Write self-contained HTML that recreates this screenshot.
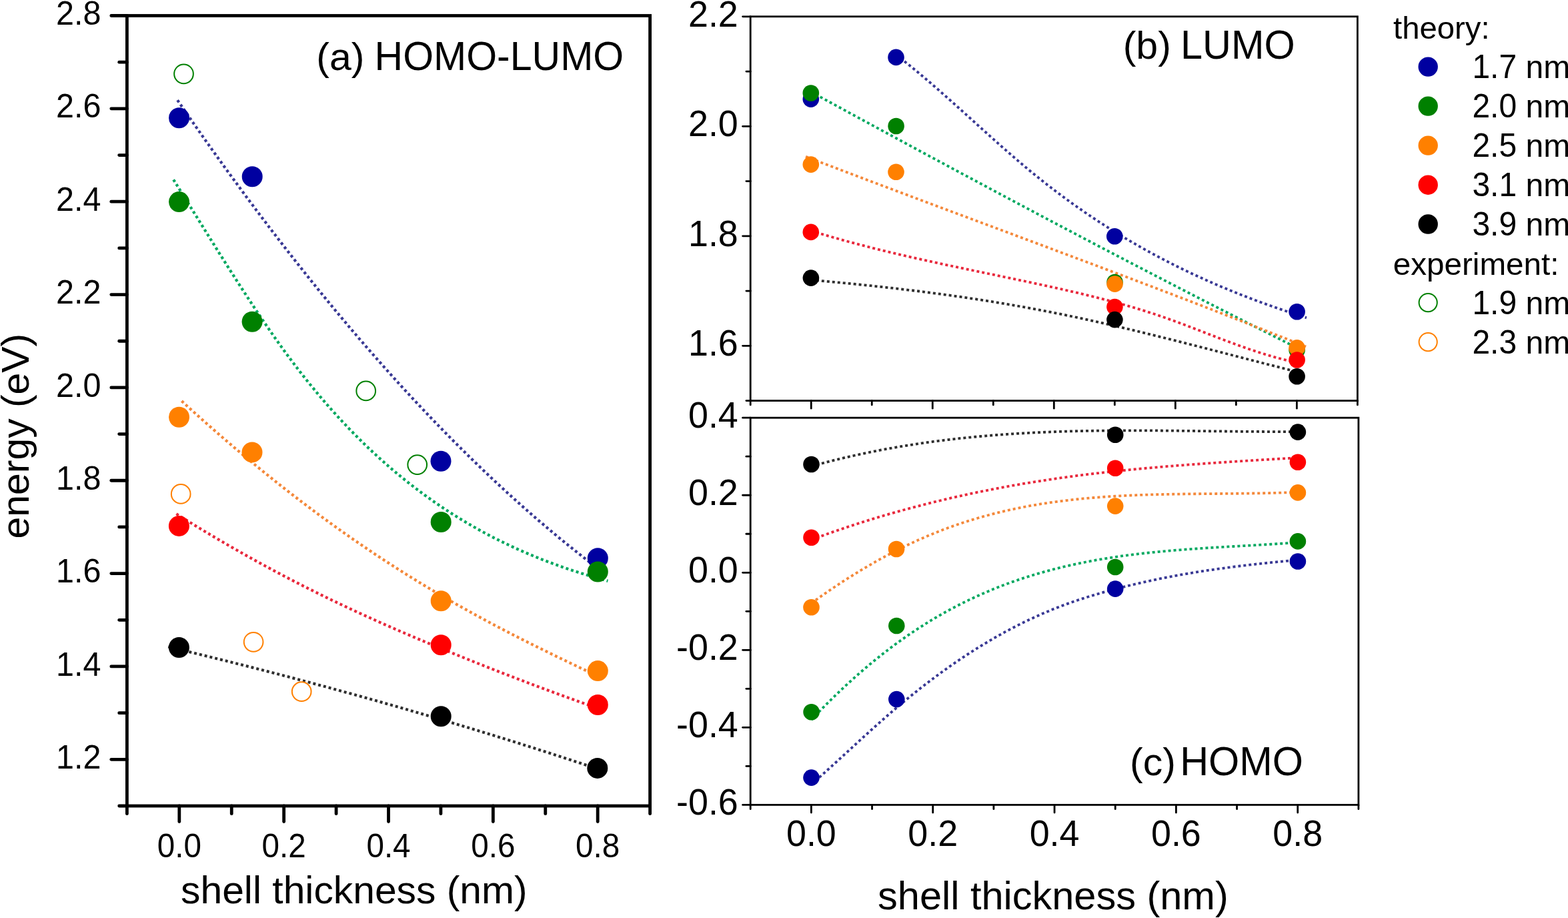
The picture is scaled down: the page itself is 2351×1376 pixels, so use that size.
<!DOCTYPE html>
<html><head><meta charset="utf-8"><title>HOMO-LUMO energies vs shell thickness</title><style>html,body{margin:0;padding:0;background:#fff;}svg{display:block;}</style></head><body>
<svg width="2351" height="1376" viewBox="0 0 2351 1376" font-family="'Liberation Sans', Arial, Helvetica, sans-serif">
<rect width="2351" height="1376" fill="#fff"/>
<line x1="166.80" y1="23.50" x2="190.40" y2="23.50" stroke="#000" stroke-width="4.8" stroke-linecap="round"/>
<line x1="178.70" y1="93.18" x2="190.40" y2="93.18" stroke="#000" stroke-width="4.8" stroke-linecap="round"/>
<line x1="166.80" y1="162.85" x2="190.40" y2="162.85" stroke="#000" stroke-width="4.8" stroke-linecap="round"/>
<line x1="178.70" y1="232.53" x2="190.40" y2="232.53" stroke="#000" stroke-width="4.8" stroke-linecap="round"/>
<line x1="166.80" y1="302.21" x2="190.40" y2="302.21" stroke="#000" stroke-width="4.8" stroke-linecap="round"/>
<line x1="178.70" y1="371.88" x2="190.40" y2="371.88" stroke="#000" stroke-width="4.8" stroke-linecap="round"/>
<line x1="166.80" y1="441.56" x2="190.40" y2="441.56" stroke="#000" stroke-width="4.8" stroke-linecap="round"/>
<line x1="178.70" y1="511.24" x2="190.40" y2="511.24" stroke="#000" stroke-width="4.8" stroke-linecap="round"/>
<line x1="166.80" y1="580.91" x2="190.40" y2="580.91" stroke="#000" stroke-width="4.8" stroke-linecap="round"/>
<line x1="178.70" y1="650.59" x2="190.40" y2="650.59" stroke="#000" stroke-width="4.8" stroke-linecap="round"/>
<line x1="166.80" y1="720.26" x2="190.40" y2="720.26" stroke="#000" stroke-width="4.8" stroke-linecap="round"/>
<line x1="178.70" y1="789.94" x2="190.40" y2="789.94" stroke="#000" stroke-width="4.8" stroke-linecap="round"/>
<line x1="166.80" y1="859.62" x2="190.40" y2="859.62" stroke="#000" stroke-width="4.8" stroke-linecap="round"/>
<line x1="178.70" y1="929.29" x2="190.40" y2="929.29" stroke="#000" stroke-width="4.8" stroke-linecap="round"/>
<line x1="166.80" y1="998.97" x2="190.40" y2="998.97" stroke="#000" stroke-width="4.8" stroke-linecap="round"/>
<line x1="178.70" y1="1068.65" x2="190.40" y2="1068.65" stroke="#000" stroke-width="4.8" stroke-linecap="round"/>
<line x1="166.80" y1="1138.32" x2="190.40" y2="1138.32" stroke="#000" stroke-width="4.8" stroke-linecap="round"/>
<line x1="178.70" y1="1208.00" x2="190.40" y2="1208.00" stroke="#000" stroke-width="4.8" stroke-linecap="round"/>
<line x1="190.40" y1="1208.00" x2="190.40" y2="1219.70" stroke="#000" stroke-width="4.8" stroke-linecap="round"/>
<line x1="268.82" y1="1208.00" x2="268.82" y2="1231.60" stroke="#000" stroke-width="4.8" stroke-linecap="round"/>
<line x1="347.24" y1="1208.00" x2="347.24" y2="1219.70" stroke="#000" stroke-width="4.8" stroke-linecap="round"/>
<line x1="425.66" y1="1208.00" x2="425.66" y2="1231.60" stroke="#000" stroke-width="4.8" stroke-linecap="round"/>
<line x1="504.08" y1="1208.00" x2="504.08" y2="1219.70" stroke="#000" stroke-width="4.8" stroke-linecap="round"/>
<line x1="582.50" y1="1208.00" x2="582.50" y2="1231.60" stroke="#000" stroke-width="4.8" stroke-linecap="round"/>
<line x1="660.92" y1="1208.00" x2="660.92" y2="1219.70" stroke="#000" stroke-width="4.8" stroke-linecap="round"/>
<line x1="739.34" y1="1208.00" x2="739.34" y2="1231.60" stroke="#000" stroke-width="4.8" stroke-linecap="round"/>
<line x1="817.76" y1="1208.00" x2="817.76" y2="1219.70" stroke="#000" stroke-width="4.8" stroke-linecap="round"/>
<line x1="896.18" y1="1208.00" x2="896.18" y2="1231.60" stroke="#000" stroke-width="4.8" stroke-linecap="round"/>
<line x1="974.60" y1="1208.00" x2="974.60" y2="1219.70" stroke="#000" stroke-width="4.8" stroke-linecap="round"/>
<rect x="190.4" y="23.5" width="784.20" height="1184.50" fill="none" stroke="#000" stroke-width="4.8"/>
<text transform="translate(151.50,37.10) scale(1.0,1.03)" font-size="48.5" text-anchor="end">2.8</text>
<text transform="translate(151.50,176.45) scale(1.0,1.03)" font-size="48.5" text-anchor="end">2.6</text>
<text transform="translate(151.50,315.81) scale(1.0,1.03)" font-size="48.5" text-anchor="end">2.4</text>
<text transform="translate(151.50,455.16) scale(1.0,1.03)" font-size="48.5" text-anchor="end">2.2</text>
<text transform="translate(151.50,594.51) scale(1.0,1.03)" font-size="48.5" text-anchor="end">2.0</text>
<text transform="translate(151.50,733.86) scale(1.0,1.03)" font-size="48.5" text-anchor="end">1.8</text>
<text transform="translate(151.50,873.22) scale(1.0,1.03)" font-size="48.5" text-anchor="end">1.6</text>
<text transform="translate(151.50,1012.57) scale(1.0,1.03)" font-size="48.5" text-anchor="end">1.4</text>
<text transform="translate(151.50,1151.92) scale(1.0,1.03)" font-size="48.5" text-anchor="end">1.2</text>
<text transform="translate(268.82,1285.20) scale(1.0,1.03)" font-size="47.6" text-anchor="middle">0.0</text>
<text transform="translate(425.66,1285.20) scale(1.0,1.03)" font-size="47.6" text-anchor="middle">0.2</text>
<text transform="translate(582.50,1285.20) scale(1.0,1.03)" font-size="47.6" text-anchor="middle">0.4</text>
<text transform="translate(739.34,1285.20) scale(1.0,1.03)" font-size="47.6" text-anchor="middle">0.6</text>
<text transform="translate(896.18,1285.20) scale(1.0,1.03)" font-size="47.6" text-anchor="middle">0.8</text>
<text transform="translate(474.30,105.00) scale(1.0,0.985)" font-size="59.0" text-anchor="start">(a)</text>
<text transform="translate(561.60,105.00) scale(1.0,1.03)" font-size="59.0" text-anchor="start">HOMO-LUMO</text>
<text transform="translate(530.80,1354.30) scale(1.0,0.985)" font-size="58.8" text-anchor="middle">shell thickness (nm)</text>
<text transform="translate(43.2,653.6) rotate(-90) scale(1,0.985)" font-size="58.9" text-anchor="middle">energy (eV)</text>
<path d="M266.10,150.12 L270.14,155.99 L274.18,161.85 L278.21,167.68 L282.25,173.51 L286.29,179.31 L290.33,185.10 L294.36,190.87 L298.40,196.62 L302.44,202.36 L306.48,208.08 L310.52,213.78 L314.55,219.47 L318.59,225.13 L322.63,230.78 L326.67,236.42 L330.71,242.03 L334.74,247.63 L338.78,253.21 L342.82,258.77 L346.86,264.32 L350.89,269.85 L354.93,275.36 L358.97,280.86 L363.01,286.33 L367.05,291.79 L371.08,297.24 L375.12,302.66 L379.16,308.07 L383.20,313.46 L387.23,318.83 L391.27,324.19 L395.31,329.52 L399.35,334.84 L403.39,340.15 L407.42,345.43 L411.46,350.70 L415.50,355.95 L419.54,361.18 L423.57,366.40 L427.61,371.59 L431.65,376.77 L435.69,381.94 L439.73,387.08 L443.76,392.21 L447.80,397.32 L451.84,402.41 L455.88,407.48 L459.92,412.54 L463.95,417.58 L467.99,422.60 L472.03,427.60 L476.07,432.59 L480.10,437.55 L484.14,442.50 L488.18,447.44 L492.22,452.35 L496.26,457.25 L500.29,462.13 L504.33,466.99 L508.37,471.83 L512.41,476.66 L516.44,481.46 L520.48,486.25 L524.52,491.02 L528.56,495.78 L532.60,500.51 L536.63,505.23 L540.67,509.93 L544.71,514.61 L548.75,519.28 L552.79,523.92 L556.82,528.55 L560.86,533.16 L564.90,537.75 L568.94,542.33 L572.97,546.88 L577.01,551.42 L581.05,555.94 L585.09,560.44 L589.13,564.93 L593.16,569.39 L597.20,573.84 L601.24,578.27 L605.28,582.68 L609.31,587.07 L613.35,591.45 L617.39,595.80 L621.43,600.14 L625.47,604.46 L629.50,608.76 L633.54,613.05 L637.58,617.31 L641.62,621.56 L645.66,625.79 L649.69,630.00 L653.73,634.19 L657.77,638.36 L661.81,642.52 L665.84,646.66 L669.88,650.78 L673.92,654.88 L677.96,658.96 L682.00,663.02 L686.03,667.07 L690.07,671.09 L694.11,675.10 L698.15,679.09 L702.18,683.06 L706.22,687.02 L710.26,690.95 L714.30,694.87 L718.34,698.77 L722.37,702.64 L726.41,706.50 L730.45,710.35 L734.49,714.17 L738.52,717.97 L742.56,721.76 L746.60,725.53 L750.64,729.28 L754.68,733.01 L758.71,736.72 L762.75,740.41 L766.79,744.09 L770.83,747.74 L774.87,751.38 L778.90,755.00 L782.94,758.60 L786.98,762.18 L791.02,765.74 L795.05,769.28 L799.09,772.81 L803.13,776.31 L807.17,779.80 L811.21,783.27 L815.24,786.72 L819.28,790.15 L823.32,793.56 L827.36,796.95 L831.39,800.33 L835.43,803.68 L839.47,807.02 L843.51,810.33 L847.55,813.63 L851.58,816.91 L855.62,820.17 L859.66,823.41 L863.70,826.64 L867.74,829.84 L871.77,833.02 L875.81,836.19 L879.85,839.33 L883.89,842.46 L887.92,845.57 L891.96,848.66 L896.00,851.73" fill="none" stroke="#383894" stroke-width="4.2" stroke-dasharray="4 4"/>
<path d="M260.10,269.31 L264.15,275.76 L268.19,282.23 L272.24,288.70 L276.28,295.19 L280.33,301.68 L284.37,308.18 L288.42,314.68 L292.46,321.19 L296.51,327.69 L300.55,334.20 L304.60,340.70 L308.64,347.19 L312.69,353.68 L316.73,360.16 L320.78,366.63 L324.83,373.09 L328.87,379.53 L332.92,385.96 L336.96,392.37 L341.01,398.77 L345.05,405.14 L349.10,411.49 L353.14,417.81 L357.19,424.11 L361.23,430.38 L365.28,436.62 L369.32,442.83 L373.37,449.00 L377.41,455.14 L381.46,461.25 L385.51,467.31 L389.55,473.34 L393.60,479.32 L397.64,485.26 L401.69,491.15 L405.73,497.00 L409.78,502.79 L413.82,508.54 L417.87,514.23 L421.91,519.87 L425.96,525.45 L430.00,530.97 L434.05,536.43 L438.10,541.84 L442.14,547.18 L446.19,552.46 L450.23,557.69 L454.28,562.86 L458.32,567.97 L462.37,573.02 L466.41,578.01 L470.46,582.95 L474.50,587.83 L478.55,592.65 L482.59,597.42 L486.64,602.14 L490.68,606.79 L494.73,611.40 L498.78,615.95 L502.82,620.45 L506.87,624.89 L510.91,629.29 L514.96,633.63 L519.00,637.91 L523.05,642.15 L527.09,646.34 L531.14,650.47 L535.18,654.56 L539.23,658.60 L543.27,662.58 L547.32,666.52 L551.36,670.41 L555.41,674.26 L559.46,678.05 L563.50,681.80 L567.55,685.50 L571.59,689.16 L575.64,692.77 L579.68,696.33 L583.73,699.85 L587.77,703.33 L591.82,706.76 L595.86,710.14 L599.91,713.49 L603.95,716.79 L608.00,720.05 L612.04,723.27 L616.09,726.44 L620.14,729.58 L624.18,732.67 L628.23,735.73 L632.27,738.74 L636.32,741.71 L640.36,744.65 L644.41,747.55 L648.45,750.41 L652.50,753.23 L656.54,756.01 L660.59,758.76 L664.63,761.47 L668.68,764.15 L672.72,766.79 L676.77,769.39 L680.82,771.96 L684.86,774.50 L688.91,777.00 L692.95,779.46 L697.00,781.90 L701.04,784.29 L705.09,786.66 L709.13,788.99 L713.18,791.29 L717.22,793.56 L721.27,795.80 L725.31,798.00 L729.36,800.18 L733.40,802.32 L737.45,804.43 L741.50,806.51 L745.54,808.57 L749.59,810.59 L753.63,812.58 L757.68,814.55 L761.72,816.48 L765.77,818.39 L769.81,820.27 L773.86,822.12 L777.90,823.94 L781.95,825.74 L785.99,827.51 L790.04,829.25 L794.09,830.97 L798.13,832.66 L802.18,834.33 L806.22,835.97 L810.27,837.59 L814.31,839.18 L818.36,840.74 L822.40,842.29 L826.45,843.81 L830.49,845.30 L834.54,846.78 L838.58,848.23 L842.63,849.66 L846.67,851.07 L850.72,852.45 L854.77,853.81 L858.81,855.16 L862.86,856.48 L866.90,857.78 L870.95,859.06 L874.99,860.32 L879.04,861.57 L883.08,862.79 L887.13,863.99 L891.17,865.18 L895.22,866.35 L899.26,867.50 L903.31,868.63 L907.35,869.75 L911.40,870.85" fill="none" stroke="#00a860" stroke-width="4.2" stroke-dasharray="4 4"/>
<path d="M272.40,601.11 L276.45,604.82 L280.50,608.52 L284.55,612.20 L288.60,615.86 L292.65,619.51 L296.70,623.15 L300.75,626.78 L304.79,630.38 L308.84,633.98 L312.89,637.56 L316.94,641.13 L320.99,644.68 L325.04,648.22 L329.09,651.74 L333.14,655.25 L337.19,658.74 L341.24,662.22 L345.29,665.69 L349.34,669.14 L353.39,672.58 L357.44,676.01 L361.49,679.42 L365.54,682.81 L369.58,686.19 L373.63,689.56 L377.68,692.91 L381.73,696.25 L385.78,699.58 L389.83,702.89 L393.88,706.18 L397.93,709.46 L401.98,712.73 L406.03,715.98 L410.08,719.22 L414.13,722.45 L418.18,725.66 L422.23,728.85 L426.28,732.03 L430.32,735.20 L434.37,738.35 L438.42,741.49 L442.47,744.62 L446.52,747.73 L450.57,750.82 L454.62,753.90 L458.67,756.97 L462.72,760.02 L466.77,763.06 L470.82,766.09 L474.87,769.10 L478.92,772.09 L482.97,775.07 L487.02,778.04 L491.06,780.99 L495.11,783.93 L499.16,786.86 L503.21,789.77 L507.26,792.66 L511.31,795.54 L515.36,798.41 L519.41,801.26 L523.46,804.10 L527.51,806.93 L531.56,809.74 L535.61,812.53 L539.66,815.31 L543.71,818.08 L547.76,820.83 L551.81,823.57 L555.85,826.29 L559.90,829.00 L563.95,831.70 L568.00,834.38 L572.05,837.05 L576.10,839.71 L580.15,842.35 L584.20,844.97 L588.25,847.59 L592.30,850.19 L596.35,852.77 L600.40,855.34 L604.45,857.90 L608.50,860.45 L612.55,862.98 L616.59,865.50 L620.64,868.00 L624.69,870.50 L628.74,872.98 L632.79,875.44 L636.84,877.89 L640.89,880.33 L644.94,882.76 L648.99,885.17 L653.04,887.58 L657.09,889.96 L661.14,892.34 L665.19,894.70 L669.24,897.05 L673.29,899.39 L677.34,901.71 L681.38,904.03 L685.43,906.33 L689.48,908.61 L693.53,910.89 L697.58,913.15 L701.63,915.40 L705.68,917.64 L709.73,919.87 L713.78,922.09 L717.83,924.30 L721.88,926.49 L725.93,928.68 L729.98,930.86 L734.03,933.02 L738.08,935.18 L742.12,937.32 L746.17,939.46 L750.22,941.58 L754.27,943.70 L758.32,945.81 L762.37,947.90 L766.42,949.99 L770.47,952.07 L774.52,954.15 L778.57,956.21 L782.62,958.27 L786.67,960.31 L790.72,962.35 L794.77,964.39 L798.82,966.41 L802.86,968.43 L806.91,970.44 L810.96,972.45 L815.01,974.44 L819.06,976.44 L823.11,978.42 L827.16,980.40 L831.21,982.37 L835.26,984.34 L839.31,986.30 L843.36,988.26 L847.41,990.21 L851.46,992.15 L855.51,994.09 L859.56,996.03 L863.61,997.96 L867.65,999.89 L871.70,1001.81 L875.75,1003.73 L879.80,1005.65 L883.85,1007.56 L887.90,1009.47 L891.95,1011.37 L896.00,1013.28" fill="none" stroke="#f4883a" stroke-width="4.2" stroke-dasharray="4 4"/>
<path d="M264.40,770.31 L268.45,772.85 L272.50,775.37 L276.55,777.89 L280.59,780.39 L284.64,782.88 L288.69,785.37 L292.74,787.84 L296.79,790.30 L300.84,792.75 L304.89,795.19 L308.94,797.63 L312.98,800.05 L317.03,802.46 L321.08,804.86 L325.13,807.25 L329.18,809.63 L333.23,812.00 L337.28,814.35 L341.33,816.70 L345.37,819.04 L349.42,821.37 L353.47,823.69 L357.52,825.99 L361.57,828.29 L365.62,830.58 L369.67,832.85 L373.72,835.12 L377.76,837.37 L381.81,839.62 L385.86,841.85 L389.91,844.08 L393.96,846.29 L398.01,848.50 L402.06,850.69 L406.11,852.88 L410.15,855.05 L414.20,857.21 L418.25,859.37 L422.30,861.51 L426.35,863.64 L430.40,865.76 L434.45,867.88 L438.49,869.98 L442.54,872.07 L446.59,874.15 L450.64,876.22 L454.69,878.28 L458.74,880.33 L462.79,882.37 L466.84,884.41 L470.88,886.43 L474.93,888.44 L478.98,890.44 L483.03,892.43 L487.08,894.41 L491.13,896.38 L495.18,898.34 L499.23,900.29 L503.27,902.23 L507.32,904.16 L511.37,906.09 L515.42,908.00 L519.47,909.91 L523.52,911.80 L527.57,913.69 L531.62,915.57 L535.66,917.44 L539.71,919.30 L543.76,921.16 L547.81,923.01 L551.86,924.84 L555.91,926.68 L559.96,928.50 L564.01,930.31 L568.05,932.12 L572.10,933.92 L576.15,935.72 L580.20,937.51 L584.25,939.29 L588.30,941.06 L592.35,942.83 L596.39,944.59 L600.44,946.34 L604.49,948.09 L608.54,949.83 L612.59,951.56 L616.64,953.29 L620.69,955.02 L624.74,956.73 L628.78,958.45 L632.83,960.15 L636.88,961.85 L640.93,963.55 L644.98,965.24 L649.03,966.92 L653.08,968.60 L657.13,970.28 L661.17,971.95 L665.22,973.61 L669.27,975.27 L673.32,976.93 L677.37,978.58 L681.42,980.23 L685.47,981.87 L689.52,983.51 L693.56,985.15 L697.61,986.78 L701.66,988.41 L705.71,990.03 L709.76,991.65 L713.81,993.26 L717.86,994.87 L721.91,996.48 L725.95,998.08 L730.00,999.67 L734.05,1001.27 L738.10,1002.86 L742.15,1004.44 L746.20,1006.02 L750.25,1007.60 L754.29,1009.17 L758.34,1010.74 L762.39,1012.30 L766.44,1013.86 L770.49,1015.41 L774.54,1016.96 L778.59,1018.51 L782.64,1020.05 L786.68,1021.59 L790.73,1023.13 L794.78,1024.66 L798.83,1026.18 L802.88,1027.70 L806.93,1029.22 L810.98,1030.73 L815.03,1032.24 L819.07,1033.74 L823.12,1035.24 L827.17,1036.74 L831.22,1038.23 L835.27,1039.72 L839.32,1041.20 L843.37,1042.68 L847.42,1044.16 L851.46,1045.63 L855.51,1047.09 L859.56,1048.56 L863.61,1050.01 L867.66,1051.47 L871.71,1052.92 L875.76,1054.36 L879.81,1055.80 L883.85,1057.24 L887.90,1058.67 L891.95,1060.10 L896.00,1061.52" fill="none" stroke="#e8283c" stroke-width="4.2" stroke-dasharray="4 4"/>
<path d="M252.20,969.55 L256.25,970.51 L260.30,971.48 L264.35,972.44 L268.40,973.41 L272.45,974.38 L276.49,975.35 L280.54,976.32 L284.59,977.30 L288.64,978.28 L292.69,979.26 L296.74,980.24 L300.79,981.23 L304.84,982.21 L308.89,983.20 L312.94,984.20 L316.98,985.19 L321.03,986.19 L325.08,987.19 L329.13,988.19 L333.18,989.19 L337.23,990.20 L341.28,991.21 L345.33,992.22 L349.38,993.23 L353.43,994.25 L357.48,995.26 L361.52,996.28 L365.57,997.31 L369.62,998.33 L373.67,999.36 L377.72,1000.39 L381.77,1001.42 L385.82,1002.46 L389.87,1003.49 L393.92,1004.53 L397.97,1005.57 L402.02,1006.62 L406.06,1007.66 L410.11,1008.71 L414.16,1009.76 L418.21,1010.82 L422.26,1011.87 L426.31,1012.93 L430.36,1013.99 L434.41,1015.06 L438.46,1016.12 L442.51,1017.19 L446.55,1018.26 L450.60,1019.33 L454.65,1020.41 L458.70,1021.48 L462.75,1022.56 L466.80,1023.65 L470.85,1024.73 L474.90,1025.82 L478.95,1026.91 L483.00,1028.00 L487.05,1029.09 L491.09,1030.19 L495.14,1031.29 L499.19,1032.39 L503.24,1033.49 L507.29,1034.60 L511.34,1035.71 L515.39,1036.82 L519.44,1037.93 L523.49,1039.05 L527.54,1040.17 L531.58,1041.29 L535.63,1042.41 L539.68,1043.54 L543.73,1044.67 L547.78,1045.80 L551.83,1046.93 L555.88,1048.07 L559.93,1049.21 L563.98,1050.35 L568.03,1051.49 L572.08,1052.63 L576.12,1053.78 L580.17,1054.93 L584.22,1056.09 L588.27,1057.24 L592.32,1058.40 L596.37,1059.56 L600.42,1060.72 L604.47,1061.89 L608.52,1063.05 L612.57,1064.22 L616.62,1065.40 L620.66,1066.57 L624.71,1067.75 L628.76,1068.93 L632.81,1070.11 L636.86,1071.30 L640.91,1072.48 L644.96,1073.67 L649.01,1074.87 L653.06,1076.06 L657.11,1077.26 L661.15,1078.46 L665.20,1079.66 L669.25,1080.87 L673.30,1082.07 L677.35,1083.28 L681.40,1084.50 L685.45,1085.71 L689.50,1086.93 L693.55,1088.15 L697.60,1089.37 L701.65,1090.60 L705.69,1091.83 L709.74,1093.06 L713.79,1094.29 L717.84,1095.52 L721.89,1096.76 L725.94,1098.00 L729.99,1099.24 L734.04,1100.49 L738.09,1101.74 L742.14,1102.99 L746.18,1104.24 L750.23,1105.50 L754.28,1106.75 L758.33,1108.02 L762.38,1109.28 L766.43,1110.54 L770.48,1111.81 L774.53,1113.08 L778.58,1114.36 L782.63,1115.63 L786.68,1116.91 L790.72,1118.19 L794.77,1119.48 L798.82,1120.76 L802.87,1122.05 L806.92,1123.34 L810.97,1124.64 L815.02,1125.93 L819.07,1127.23 L823.12,1128.53 L827.17,1129.84 L831.22,1131.14 L835.26,1132.45 L839.31,1133.77 L843.36,1135.08 L847.41,1136.40 L851.46,1137.72 L855.51,1139.04 L859.56,1140.37 L863.61,1141.69 L867.66,1143.02 L871.71,1144.36 L875.75,1145.69 L879.80,1147.03 L883.85,1148.37 L887.90,1149.71 L891.95,1151.06 L896.00,1152.41" fill="none" stroke="#2e2e2e" stroke-width="4.2" stroke-dasharray="4 4"/>
<circle cx="275.50" cy="110.80" r="14.35" fill="none" stroke="#008000" stroke-width="2.0"/>
<circle cx="548.70" cy="585.90" r="14.35" fill="none" stroke="#008000" stroke-width="2.0"/>
<circle cx="625.70" cy="696.60" r="14.35" fill="none" stroke="#008000" stroke-width="2.0"/>
<circle cx="271.20" cy="740.40" r="14.35" fill="none" stroke="#ff8000" stroke-width="2.0"/>
<circle cx="380.10" cy="962.30" r="14.35" fill="none" stroke="#ff8000" stroke-width="2.0"/>
<circle cx="452.20" cy="1036.60" r="14.35" fill="none" stroke="#ff8000" stroke-width="2.0"/>
<circle cx="268.50" cy="176.70" r="15.5" fill="#0000a0"/>
<circle cx="378.20" cy="264.70" r="15.5" fill="#0000a0"/>
<circle cx="661.00" cy="691.30" r="15.5" fill="#0000a0"/>
<circle cx="896.30" cy="836.70" r="15.5" fill="#0000a0"/>
<circle cx="268.50" cy="302.60" r="15.5" fill="#008000"/>
<circle cx="378.10" cy="482.20" r="15.5" fill="#008000"/>
<circle cx="661.20" cy="782.50" r="15.5" fill="#008000"/>
<circle cx="896.30" cy="857.00" r="15.5" fill="#008000"/>
<circle cx="268.50" cy="625.20" r="15.5" fill="#ff8000"/>
<circle cx="378.00" cy="677.90" r="15.5" fill="#ff8000"/>
<circle cx="661.20" cy="900.80" r="15.5" fill="#ff8000"/>
<circle cx="896.30" cy="1005.60" r="15.5" fill="#ff8000"/>
<circle cx="268.40" cy="788.40" r="15.5" fill="#ff0000"/>
<circle cx="661.20" cy="966.80" r="15.5" fill="#ff0000"/>
<circle cx="896.30" cy="1056.50" r="15.5" fill="#ff0000"/>
<circle cx="268.40" cy="970.50" r="15.5" fill="#000000"/>
<circle cx="661.20" cy="1073.80" r="15.5" fill="#000000"/>
<circle cx="895.80" cy="1151.40" r="15.5" fill="#000000"/>
<line x1="1113.60" y1="24.80" x2="1125.20" y2="24.80" stroke="#000" stroke-width="2.8" stroke-linecap="round"/>
<line x1="1118.90" y1="107.06" x2="1125.20" y2="107.06" stroke="#000" stroke-width="2.8" stroke-linecap="round"/>
<line x1="1113.60" y1="189.31" x2="1125.20" y2="189.31" stroke="#000" stroke-width="2.8" stroke-linecap="round"/>
<line x1="1118.90" y1="271.57" x2="1125.20" y2="271.57" stroke="#000" stroke-width="2.8" stroke-linecap="round"/>
<line x1="1113.60" y1="353.83" x2="1125.20" y2="353.83" stroke="#000" stroke-width="2.8" stroke-linecap="round"/>
<line x1="1118.90" y1="436.09" x2="1125.20" y2="436.09" stroke="#000" stroke-width="2.8" stroke-linecap="round"/>
<line x1="1113.60" y1="518.34" x2="1125.20" y2="518.34" stroke="#000" stroke-width="2.8" stroke-linecap="round"/>
<line x1="1118.90" y1="600.60" x2="1125.20" y2="600.60" stroke="#000" stroke-width="2.8" stroke-linecap="round"/>
<line x1="1113.60" y1="626.20" x2="1125.20" y2="626.20" stroke="#000" stroke-width="2.8" stroke-linecap="round"/>
<line x1="1118.90" y1="684.22" x2="1125.20" y2="684.22" stroke="#000" stroke-width="2.8" stroke-linecap="round"/>
<line x1="1113.60" y1="742.24" x2="1125.20" y2="742.24" stroke="#000" stroke-width="2.8" stroke-linecap="round"/>
<line x1="1118.90" y1="800.26" x2="1125.20" y2="800.26" stroke="#000" stroke-width="2.8" stroke-linecap="round"/>
<line x1="1113.60" y1="858.28" x2="1125.20" y2="858.28" stroke="#000" stroke-width="2.8" stroke-linecap="round"/>
<line x1="1118.90" y1="916.30" x2="1125.20" y2="916.30" stroke="#000" stroke-width="2.8" stroke-linecap="round"/>
<line x1="1113.60" y1="974.32" x2="1125.20" y2="974.32" stroke="#000" stroke-width="2.8" stroke-linecap="round"/>
<line x1="1118.90" y1="1032.34" x2="1125.20" y2="1032.34" stroke="#000" stroke-width="2.8" stroke-linecap="round"/>
<line x1="1113.60" y1="1090.36" x2="1125.20" y2="1090.36" stroke="#000" stroke-width="2.8" stroke-linecap="round"/>
<line x1="1118.90" y1="1148.38" x2="1125.20" y2="1148.38" stroke="#000" stroke-width="2.8" stroke-linecap="round"/>
<line x1="1113.60" y1="1206.40" x2="1125.20" y2="1206.40" stroke="#000" stroke-width="2.8" stroke-linecap="round"/>
<line x1="1125.20" y1="600.60" x2="1125.20" y2="606.90" stroke="#000" stroke-width="2.8" stroke-linecap="round"/>
<line x1="1216.22" y1="600.60" x2="1216.22" y2="612.20" stroke="#000" stroke-width="2.8" stroke-linecap="round"/>
<line x1="1307.24" y1="600.60" x2="1307.24" y2="606.90" stroke="#000" stroke-width="2.8" stroke-linecap="round"/>
<line x1="1398.26" y1="600.60" x2="1398.26" y2="612.20" stroke="#000" stroke-width="2.8" stroke-linecap="round"/>
<line x1="1489.28" y1="600.60" x2="1489.28" y2="606.90" stroke="#000" stroke-width="2.8" stroke-linecap="round"/>
<line x1="1580.30" y1="600.60" x2="1580.30" y2="612.20" stroke="#000" stroke-width="2.8" stroke-linecap="round"/>
<line x1="1671.32" y1="600.60" x2="1671.32" y2="606.90" stroke="#000" stroke-width="2.8" stroke-linecap="round"/>
<line x1="1762.34" y1="600.60" x2="1762.34" y2="612.20" stroke="#000" stroke-width="2.8" stroke-linecap="round"/>
<line x1="1853.36" y1="600.60" x2="1853.36" y2="606.90" stroke="#000" stroke-width="2.8" stroke-linecap="round"/>
<line x1="1944.38" y1="600.60" x2="1944.38" y2="612.20" stroke="#000" stroke-width="2.8" stroke-linecap="round"/>
<line x1="2035.40" y1="600.60" x2="2035.40" y2="606.90" stroke="#000" stroke-width="2.8" stroke-linecap="round"/>
<line x1="1125.20" y1="1206.40" x2="1125.20" y2="1212.70" stroke="#000" stroke-width="2.8" stroke-linecap="round"/>
<line x1="1216.37" y1="1206.40" x2="1216.37" y2="1218.00" stroke="#000" stroke-width="2.8" stroke-linecap="round"/>
<line x1="1307.54" y1="1206.40" x2="1307.54" y2="1212.70" stroke="#000" stroke-width="2.8" stroke-linecap="round"/>
<line x1="1398.71" y1="1206.40" x2="1398.71" y2="1218.00" stroke="#000" stroke-width="2.8" stroke-linecap="round"/>
<line x1="1489.88" y1="1206.40" x2="1489.88" y2="1212.70" stroke="#000" stroke-width="2.8" stroke-linecap="round"/>
<line x1="1581.05" y1="1206.40" x2="1581.05" y2="1218.00" stroke="#000" stroke-width="2.8" stroke-linecap="round"/>
<line x1="1672.22" y1="1206.40" x2="1672.22" y2="1212.70" stroke="#000" stroke-width="2.8" stroke-linecap="round"/>
<line x1="1763.39" y1="1206.40" x2="1763.39" y2="1218.00" stroke="#000" stroke-width="2.8" stroke-linecap="round"/>
<line x1="1854.56" y1="1206.40" x2="1854.56" y2="1212.70" stroke="#000" stroke-width="2.8" stroke-linecap="round"/>
<line x1="1945.73" y1="1206.40" x2="1945.73" y2="1218.00" stroke="#000" stroke-width="2.8" stroke-linecap="round"/>
<line x1="2036.90" y1="1206.40" x2="2036.90" y2="1212.70" stroke="#000" stroke-width="2.8" stroke-linecap="round"/>
<rect x="1125.2" y="24.8" width="910.20" height="575.80" fill="none" stroke="#000" stroke-width="2.8"/>
<rect x="1125.2" y="626.2" width="911.70" height="580.20" fill="none" stroke="#000" stroke-width="2.8"/>
<text transform="translate(1106.80,39.50) scale(1.0,1.03)" font-size="53.8" text-anchor="end">2.2</text>
<text transform="translate(1106.80,204.01) scale(1.0,1.03)" font-size="53.8" text-anchor="end">2.0</text>
<text transform="translate(1106.80,368.53) scale(1.0,1.03)" font-size="53.8" text-anchor="end">1.8</text>
<text transform="translate(1106.80,533.04) scale(1.0,1.03)" font-size="53.8" text-anchor="end">1.6</text>
<text transform="translate(1106.80,640.90) scale(1.0,1.03)" font-size="53.8" text-anchor="end">0.4</text>
<text transform="translate(1106.80,756.94) scale(1.0,1.03)" font-size="53.8" text-anchor="end">0.2</text>
<text transform="translate(1106.80,872.98) scale(1.0,1.03)" font-size="53.8" text-anchor="end">0.0</text>
<text transform="translate(1106.80,989.02) scale(1.0,1.03)" font-size="53.8" text-anchor="end">-0.2</text>
<text transform="translate(1106.80,1105.06) scale(1.0,1.03)" font-size="53.8" text-anchor="end">-0.4</text>
<text transform="translate(1106.80,1221.10) scale(1.0,1.03)" font-size="53.8" text-anchor="end">-0.6</text>
<text transform="translate(1216.37,1268.00) scale(1.0,1.03)" font-size="53.8" text-anchor="middle">0.0</text>
<text transform="translate(1398.71,1268.00) scale(1.0,1.03)" font-size="53.8" text-anchor="middle">0.2</text>
<text transform="translate(1581.05,1268.00) scale(1.0,1.03)" font-size="53.8" text-anchor="middle">0.4</text>
<text transform="translate(1763.39,1268.00) scale(1.0,1.03)" font-size="53.8" text-anchor="middle">0.6</text>
<text transform="translate(1945.73,1268.00) scale(1.0,1.03)" font-size="53.8" text-anchor="middle">0.8</text>
<text transform="translate(1683.70,87.60) scale(1.0,0.985)" font-size="59.0" text-anchor="start">(b)</text>
<text transform="translate(1770.00,87.60) scale(1.0,1.03)" font-size="59.4" text-anchor="start">LUMO</text>
<text transform="translate(1694.00,1162.00) scale(1.0,0.985)" font-size="59.0" text-anchor="start">(c)</text>
<text transform="translate(1769.20,1162.00) scale(1.0,1.03)" font-size="59.4" text-anchor="start">HOMO</text>
<text transform="translate(1578.90,1362.70) scale(1.0,0.985)" font-size="59.5" text-anchor="middle">shell thickness (nm)</text>
<path d="M1343.50,82.13 L1347.55,85.24 L1351.60,88.39 L1355.65,91.58 L1359.70,94.80 L1363.75,98.06 L1367.80,101.35 L1371.85,104.67 L1375.89,108.02 L1379.94,111.40 L1383.99,114.81 L1388.04,118.24 L1392.09,121.70 L1396.14,125.18 L1400.19,128.69 L1404.24,132.21 L1408.29,135.75 L1412.34,139.31 L1416.39,142.89 L1420.44,146.48 L1424.49,150.09 L1428.54,153.70 L1432.59,157.33 L1436.63,160.97 L1440.68,164.61 L1444.73,168.26 L1448.78,171.92 L1452.83,175.57 L1456.88,179.24 L1460.93,182.90 L1464.98,186.56 L1469.03,190.21 L1473.08,193.87 L1477.13,197.52 L1481.18,201.16 L1485.23,204.80 L1489.28,208.42 L1493.33,212.04 L1497.38,215.64 L1501.42,219.23 L1505.47,222.81 L1509.52,226.36 L1513.57,229.90 L1517.62,233.43 L1521.67,236.93 L1525.72,240.41 L1529.77,243.86 L1533.82,247.29 L1537.87,250.70 L1541.92,254.07 L1545.97,257.42 L1550.02,260.74 L1554.07,264.03 L1558.12,267.29 L1562.16,270.52 L1566.21,273.72 L1570.26,276.90 L1574.31,280.04 L1578.36,283.16 L1582.41,286.25 L1586.46,289.31 L1590.51,292.35 L1594.56,295.35 L1598.61,298.33 L1602.66,301.28 L1606.71,304.21 L1610.76,307.11 L1614.81,309.98 L1618.86,312.82 L1622.90,315.64 L1626.95,318.44 L1631.00,321.20 L1635.05,323.94 L1639.10,326.66 L1643.15,329.35 L1647.20,332.02 L1651.25,334.66 L1655.30,337.27 L1659.35,339.87 L1663.40,342.43 L1667.45,344.98 L1671.50,347.49 L1675.55,349.99 L1679.60,352.46 L1683.64,354.91 L1687.69,357.33 L1691.74,359.74 L1695.79,362.11 L1699.84,364.47 L1703.89,366.80 L1707.94,369.12 L1711.99,371.40 L1716.04,373.67 L1720.09,375.92 L1724.14,378.14 L1728.19,380.34 L1732.24,382.52 L1736.29,384.68 L1740.34,386.82 L1744.38,388.94 L1748.43,391.04 L1752.48,393.12 L1756.53,395.17 L1760.58,397.21 L1764.63,399.23 L1768.68,401.23 L1772.73,403.20 L1776.78,405.16 L1780.83,407.10 L1784.88,409.02 L1788.93,410.93 L1792.98,412.81 L1797.03,414.68 L1801.08,416.52 L1805.12,418.35 L1809.17,420.17 L1813.22,421.96 L1817.27,423.74 L1821.32,425.50 L1825.37,427.24 L1829.42,428.96 L1833.47,430.67 L1837.52,432.37 L1841.57,434.04 L1845.62,435.70 L1849.67,437.35 L1853.72,438.97 L1857.77,440.59 L1861.82,442.18 L1865.87,443.77 L1869.91,445.33 L1873.96,446.88 L1878.01,448.42 L1882.06,449.95 L1886.11,451.45 L1890.16,452.95 L1894.21,454.43 L1898.26,455.90 L1902.31,457.35 L1906.36,458.79 L1910.41,460.22 L1914.46,461.63 L1918.51,463.03 L1922.56,464.42 L1926.61,465.80 L1930.65,467.16 L1934.70,468.51 L1938.75,469.85 L1942.80,471.18 L1946.85,472.49 L1950.90,473.80 L1954.95,475.09 L1959.00,476.37" fill="none" stroke="#383894" stroke-width="3.8" stroke-dasharray="4 4"/>
<path d="M1215.70,137.56 L1219.73,139.76 L1223.77,141.96 L1227.80,144.16 L1231.84,146.36 L1235.87,148.56 L1239.91,150.76 L1243.94,152.96 L1247.98,155.16 L1252.01,157.35 L1256.05,159.55 L1260.08,161.75 L1264.12,163.94 L1268.15,166.14 L1272.18,168.33 L1276.22,170.52 L1280.25,172.72 L1284.29,174.91 L1288.32,177.10 L1292.36,179.29 L1296.39,181.48 L1300.43,183.67 L1304.46,185.86 L1308.50,188.05 L1312.53,190.24 L1316.57,192.43 L1320.60,194.61 L1324.63,196.80 L1328.67,198.98 L1332.70,201.17 L1336.74,203.35 L1340.77,205.53 L1344.81,207.72 L1348.84,209.90 L1352.88,212.08 L1356.91,214.26 L1360.95,216.44 L1364.98,218.62 L1369.02,220.79 L1373.05,222.97 L1377.08,225.15 L1381.12,227.32 L1385.15,229.50 L1389.19,231.67 L1393.22,233.84 L1397.26,236.02 L1401.29,238.19 L1405.33,240.36 L1409.36,242.53 L1413.40,244.70 L1417.43,246.87 L1421.47,249.03 L1425.50,251.20 L1429.53,253.37 L1433.57,255.53 L1437.60,257.70 L1441.64,259.86 L1445.67,262.02 L1449.71,264.18 L1453.74,266.34 L1457.78,268.50 L1461.81,270.66 L1465.85,272.82 L1469.88,274.98 L1473.92,277.13 L1477.95,279.29 L1481.98,281.45 L1486.02,283.60 L1490.05,285.75 L1494.09,287.90 L1498.12,290.06 L1502.16,292.21 L1506.19,294.35 L1510.23,296.50 L1514.26,298.65 L1518.30,300.80 L1522.33,302.94 L1526.37,305.09 L1530.40,307.23 L1534.43,309.37 L1538.47,311.51 L1542.50,313.66 L1546.54,315.80 L1550.57,317.93 L1554.61,320.07 L1558.64,322.21 L1562.68,324.34 L1566.71,326.48 L1570.75,328.61 L1574.78,330.75 L1578.82,332.88 L1582.85,335.01 L1586.88,337.14 L1590.92,339.27 L1594.95,341.40 L1598.99,343.52 L1603.02,345.65 L1607.06,347.77 L1611.09,349.90 L1615.13,352.02 L1619.16,354.14 L1623.20,356.26 L1627.23,358.38 L1631.27,360.50 L1635.30,362.61 L1639.33,364.73 L1643.37,366.85 L1647.40,368.96 L1651.44,371.07 L1655.47,373.18 L1659.51,375.29 L1663.54,377.40 L1667.58,379.51 L1671.61,381.62 L1675.65,383.72 L1679.68,385.83 L1683.72,387.93 L1687.75,390.04 L1691.78,392.14 L1695.82,394.24 L1699.85,396.34 L1703.89,398.43 L1707.92,400.53 L1711.96,402.63 L1715.99,404.72 L1720.03,406.81 L1724.06,408.91 L1728.10,411.00 L1732.13,413.09 L1736.17,415.17 L1740.20,417.26 L1744.23,419.35 L1748.27,421.43 L1752.30,423.52 L1756.34,425.60 L1760.37,427.68 L1764.41,429.76 L1768.44,431.84 L1772.48,433.91 L1776.51,435.99 L1780.55,438.06 L1784.58,440.14 L1788.62,442.21 L1792.65,444.28 L1796.68,446.35 L1800.72,448.42 L1804.75,450.49 L1808.79,452.55 L1812.82,454.62 L1816.86,456.68 L1820.89,458.74 L1824.93,460.80 L1828.96,462.86 L1833.00,464.92 L1837.03,466.97 L1841.07,469.03 L1845.10,471.08 L1849.13,473.13 L1853.17,475.19 L1857.20,477.23 L1861.24,479.28 L1865.27,481.33 L1869.31,483.38 L1873.34,485.42 L1877.38,487.46 L1881.41,489.50 L1885.45,491.54 L1889.48,493.58 L1893.52,495.62 L1897.55,497.65 L1901.58,499.69 L1905.62,501.72 L1909.65,503.75 L1913.69,505.78 L1917.72,507.81 L1921.76,509.84 L1925.79,511.86 L1929.83,513.89 L1933.86,515.91 L1937.90,517.93 L1941.93,519.95 L1945.97,521.97 L1950.00,523.99" fill="none" stroke="#00a860" stroke-width="3.8" stroke-dasharray="4 4"/>
<path d="M1208.00,234.71 L1212.03,236.25 L1216.07,237.79 L1220.10,239.33 L1224.13,240.87 L1228.16,242.41 L1232.20,243.94 L1236.23,245.48 L1240.26,247.01 L1244.30,248.55 L1248.33,250.08 L1252.36,251.61 L1256.39,253.14 L1260.43,254.67 L1264.46,256.20 L1268.49,257.73 L1272.52,259.26 L1276.56,260.78 L1280.59,262.31 L1284.62,263.83 L1288.66,265.36 L1292.69,266.88 L1296.72,268.40 L1300.75,269.92 L1304.79,271.44 L1308.82,272.96 L1312.85,274.48 L1316.89,276.00 L1320.92,277.51 L1324.95,279.03 L1328.98,280.55 L1333.02,282.06 L1337.05,283.58 L1341.08,285.09 L1345.12,286.60 L1349.15,288.12 L1353.18,289.63 L1357.21,291.14 L1361.25,292.65 L1365.28,294.16 L1369.31,295.67 L1373.34,297.18 L1377.38,298.69 L1381.41,300.20 L1385.44,301.71 L1389.48,303.22 L1393.51,304.72 L1397.54,306.23 L1401.57,307.74 L1405.61,309.24 L1409.64,310.75 L1413.67,312.26 L1417.71,313.76 L1421.74,315.27 L1425.77,316.77 L1429.80,318.27 L1433.84,319.78 L1437.87,321.28 L1441.90,322.79 L1445.93,324.29 L1449.97,325.79 L1454.00,327.30 L1458.03,328.80 L1462.07,330.30 L1466.10,331.81 L1470.13,333.31 L1474.16,334.81 L1478.20,336.31 L1482.23,337.82 L1486.26,339.32 L1490.30,340.82 L1494.33,342.32 L1498.36,343.83 L1502.39,345.33 L1506.43,346.83 L1510.46,348.34 L1514.49,349.84 L1518.53,351.34 L1522.56,352.85 L1526.59,354.35 L1530.62,355.85 L1534.66,357.36 L1538.69,358.86 L1542.72,360.36 L1546.75,361.87 L1550.79,363.37 L1554.82,364.88 L1558.85,366.38 L1562.89,367.89 L1566.92,369.39 L1570.95,370.90 L1574.98,372.41 L1579.02,373.91 L1583.05,375.42 L1587.08,376.93 L1591.12,378.44 L1595.15,379.95 L1599.18,381.45 L1603.21,382.96 L1607.25,384.47 L1611.28,385.98 L1615.31,387.49 L1619.35,389.01 L1623.38,390.52 L1627.41,392.03 L1631.44,393.54 L1635.48,395.06 L1639.51,396.57 L1643.54,398.09 L1647.57,399.60 L1651.61,401.12 L1655.64,402.64 L1659.67,404.15 L1663.71,405.67 L1667.74,407.19 L1671.77,408.71 L1675.80,410.23 L1679.84,411.75 L1683.87,413.28 L1687.90,414.80 L1691.94,416.32 L1695.97,417.85 L1700.00,419.37 L1704.03,420.90 L1708.07,422.43 L1712.10,423.96 L1716.13,425.48 L1720.17,427.01 L1724.20,428.55 L1728.23,430.08 L1732.26,431.61 L1736.30,433.15 L1740.33,434.68 L1744.36,436.22 L1748.39,437.75 L1752.43,439.29 L1756.46,440.83 L1760.49,442.37 L1764.53,443.92 L1768.56,445.46 L1772.59,447.00 L1776.62,448.55 L1780.66,450.10 L1784.69,451.64 L1788.72,453.19 L1792.76,454.74 L1796.79,456.29 L1800.82,457.85 L1804.85,459.40 L1808.89,460.96 L1812.92,462.51 L1816.95,464.07 L1820.98,465.63 L1825.02,467.19 L1829.05,468.76 L1833.08,470.32 L1837.12,471.88 L1841.15,473.45 L1845.18,475.02 L1849.21,476.59 L1853.25,478.16 L1857.28,479.73 L1861.31,481.31 L1865.35,482.88 L1869.38,484.46 L1873.41,486.04 L1877.44,487.62 L1881.48,489.20 L1885.51,490.79 L1889.54,492.37 L1893.58,493.96 L1897.61,495.55 L1901.64,497.14 L1905.67,498.73 L1909.71,500.33 L1913.74,501.92 L1917.77,503.52 L1921.80,505.12 L1925.84,506.72 L1929.87,508.32 L1933.90,509.93 L1937.94,511.54 L1941.97,513.15 L1946.00,514.76 L1950.03,516.37 L1954.07,517.98 L1958.10,519.60" fill="none" stroke="#f4883a" stroke-width="3.8" stroke-dasharray="4 4"/>
<path d="M1215.80,345.76 L1219.84,347.01 L1223.88,348.26 L1227.91,349.49 L1231.95,350.71 L1235.99,351.92 L1240.03,353.11 L1244.07,354.30 L1248.11,355.47 L1252.14,356.63 L1256.18,357.78 L1260.22,358.92 L1264.26,360.05 L1268.30,361.16 L1272.34,362.27 L1276.37,363.37 L1280.41,364.45 L1284.45,365.53 L1288.49,366.59 L1292.53,367.65 L1296.57,368.70 L1300.60,369.74 L1304.64,370.77 L1308.68,371.79 L1312.72,372.80 L1316.76,373.80 L1320.79,374.80 L1324.83,375.79 L1328.87,376.77 L1332.91,377.74 L1336.95,378.71 L1340.99,379.67 L1345.02,380.62 L1349.06,381.56 L1353.10,382.50 L1357.14,383.43 L1361.18,384.36 L1365.22,385.28 L1369.25,386.19 L1373.29,387.10 L1377.33,388.00 L1381.37,388.90 L1385.41,389.80 L1389.44,390.68 L1393.48,391.57 L1397.52,392.45 L1401.56,393.32 L1405.60,394.19 L1409.64,395.06 L1413.67,395.93 L1417.71,396.79 L1421.75,397.64 L1425.79,398.50 L1429.83,399.35 L1433.87,400.20 L1437.90,401.05 L1441.94,401.89 L1445.98,402.73 L1450.02,403.57 L1454.06,404.41 L1458.10,405.25 L1462.13,406.09 L1466.17,406.92 L1470.21,407.76 L1474.25,408.59 L1478.29,409.43 L1482.32,410.26 L1486.36,411.09 L1490.40,411.93 L1494.44,412.76 L1498.48,413.60 L1502.52,414.43 L1506.55,415.27 L1510.59,416.11 L1514.63,416.94 L1518.67,417.78 L1522.71,418.63 L1526.75,419.47 L1530.78,420.32 L1534.82,421.17 L1538.86,422.02 L1542.90,422.87 L1546.94,423.73 L1550.97,424.59 L1555.01,425.45 L1559.05,426.32 L1563.09,427.19 L1567.13,428.07 L1571.17,428.95 L1575.20,429.83 L1579.24,430.72 L1583.28,431.61 L1587.32,432.51 L1591.36,433.41 L1595.40,434.32 L1599.43,435.23 L1603.47,436.15 L1607.51,437.08 L1611.55,438.01 L1615.59,438.95 L1619.63,439.90 L1623.66,440.86 L1627.70,441.83 L1631.74,442.80 L1635.78,443.79 L1639.82,444.78 L1643.85,445.79 L1647.89,446.81 L1651.93,447.83 L1655.97,448.87 L1660.01,449.92 L1664.05,450.99 L1668.08,452.06 L1672.12,453.15 L1676.16,454.26 L1680.20,455.37 L1684.24,456.51 L1688.28,457.65 L1692.31,458.81 L1696.35,459.99 L1700.39,461.19 L1704.43,462.40 L1708.47,463.62 L1712.50,464.87 L1716.54,466.13 L1720.58,467.41 L1724.62,468.71 L1728.66,470.03 L1732.70,471.36 L1736.73,472.72 L1740.77,474.10 L1744.81,475.50 L1748.85,476.91 L1752.89,478.35 L1756.93,479.80 L1760.96,481.27 L1765.00,482.76 L1769.04,484.26 L1773.08,485.77 L1777.12,487.29 L1781.16,488.82 L1785.19,490.36 L1789.23,491.90 L1793.27,493.46 L1797.31,495.01 L1801.35,496.57 L1805.38,498.13 L1809.42,499.69 L1813.46,501.26 L1817.50,502.81 L1821.54,504.37 L1825.58,505.92 L1829.61,507.46 L1833.65,509.00 L1837.69,510.53 L1841.73,512.05 L1845.77,513.55 L1849.81,515.05 L1853.84,516.53 L1857.88,517.99 L1861.92,519.44 L1865.96,520.87 L1870.00,522.28 L1874.03,523.68 L1878.07,525.04 L1882.11,526.39 L1886.15,527.71 L1890.19,529.01 L1894.23,530.28 L1898.26,531.52 L1902.30,532.73 L1906.34,533.91 L1910.38,535.06 L1914.42,536.18 L1918.46,537.26 L1922.49,538.30 L1926.53,539.31 L1930.57,540.28 L1934.61,541.21 L1938.65,542.16 L1942.69,543.23 L1946.72,544.51 L1950.76,546.10 L1954.80,548.09" fill="none" stroke="#e8283c" stroke-width="3.8" stroke-dasharray="4 4"/>
<path d="M1215.90,419.67 L1219.93,420.02 L1223.97,420.38 L1228.00,420.74 L1232.03,421.10 L1236.07,421.46 L1240.10,421.83 L1244.13,422.20 L1248.17,422.57 L1252.20,422.95 L1256.24,423.33 L1260.27,423.72 L1264.30,424.10 L1268.34,424.49 L1272.37,424.89 L1276.40,425.28 L1280.44,425.69 L1284.47,426.09 L1288.50,426.50 L1292.54,426.91 L1296.57,427.33 L1300.60,427.75 L1304.64,428.17 L1308.67,428.60 L1312.70,429.03 L1316.74,429.47 L1320.77,429.91 L1324.80,430.35 L1328.84,430.80 L1332.87,431.25 L1336.91,431.71 L1340.94,432.17 L1344.97,432.63 L1349.01,433.10 L1353.04,433.57 L1357.07,434.05 L1361.11,434.53 L1365.14,435.02 L1369.17,435.51 L1373.21,436.01 L1377.24,436.51 L1381.27,437.02 L1385.31,437.53 L1389.34,438.04 L1393.37,438.56 L1397.41,439.09 L1401.44,439.62 L1405.48,440.15 L1409.51,440.69 L1413.54,441.24 L1417.58,441.79 L1421.61,442.34 L1425.64,442.90 L1429.68,443.47 L1433.71,444.04 L1437.74,444.62 L1441.78,445.20 L1445.81,445.79 L1449.84,446.38 L1453.88,446.98 L1457.91,447.58 L1461.94,448.19 L1465.98,448.81 L1470.01,449.43 L1474.05,450.06 L1478.08,450.69 L1482.11,451.33 L1486.15,451.97 L1490.18,452.62 L1494.21,453.28 L1498.25,453.94 L1502.28,454.61 L1506.31,455.28 L1510.35,455.96 L1514.38,456.65 L1518.41,457.34 L1522.45,458.04 L1526.48,458.75 L1530.51,459.46 L1534.55,460.18 L1538.58,460.91 L1542.61,461.64 L1546.65,462.38 L1550.68,463.12 L1554.72,463.87 L1558.75,464.63 L1562.78,465.39 L1566.82,466.17 L1570.85,466.94 L1574.88,467.73 L1578.92,468.52 L1582.95,469.32 L1586.98,470.13 L1591.02,470.94 L1595.05,471.76 L1599.08,472.59 L1603.12,473.42 L1607.15,474.26 L1611.18,475.11 L1615.22,475.97 L1619.25,476.83 L1623.29,477.69 L1627.32,478.57 L1631.35,479.44 L1635.39,480.33 L1639.42,481.22 L1643.45,482.11 L1647.49,483.02 L1651.52,483.92 L1655.55,484.84 L1659.59,485.75 L1663.62,486.68 L1667.65,487.61 L1671.69,488.54 L1675.72,489.48 L1679.75,490.42 L1683.79,491.37 L1687.82,492.32 L1691.85,493.27 L1695.89,494.23 L1699.92,495.20 L1703.96,496.17 L1707.99,497.14 L1712.02,498.12 L1716.06,499.10 L1720.09,500.08 L1724.12,501.07 L1728.16,502.06 L1732.19,503.05 L1736.22,504.05 L1740.26,505.05 L1744.29,506.05 L1748.32,507.06 L1752.36,508.07 L1756.39,509.08 L1760.42,510.09 L1764.46,511.11 L1768.49,512.13 L1772.53,513.15 L1776.56,514.17 L1780.59,515.20 L1784.63,516.22 L1788.66,517.25 L1792.69,518.28 L1796.73,519.31 L1800.76,520.35 L1804.79,521.38 L1808.83,522.42 L1812.86,523.46 L1816.89,524.49 L1820.93,525.53 L1824.96,526.57 L1828.99,527.61 L1833.03,528.65 L1837.06,529.70 L1841.10,530.74 L1845.13,531.78 L1849.16,532.82 L1853.20,533.86 L1857.23,534.91 L1861.26,535.95 L1865.30,536.99 L1869.33,538.03 L1873.36,539.07 L1877.40,540.11 L1881.43,541.15 L1885.46,542.19 L1889.50,543.23 L1893.53,544.27 L1897.56,545.30 L1901.60,546.34 L1905.63,547.37 L1909.66,548.40 L1913.70,549.43 L1917.73,550.46 L1921.77,551.48 L1925.80,552.51 L1929.83,553.53 L1933.87,554.55 L1937.90,555.57 L1941.93,556.58 L1945.97,557.60 L1950.00,558.61" fill="none" stroke="#2e2e2e" stroke-width="3.8" stroke-dasharray="4 4"/>
<path d="M1216.50,698.85 L1220.53,697.74 L1224.56,696.64 L1228.59,695.55 L1232.62,694.48 L1236.65,693.43 L1240.68,692.38 L1244.71,691.36 L1248.74,690.35 L1252.77,689.35 L1256.80,688.36 L1260.83,687.39 L1264.86,686.44 L1268.90,685.50 L1272.93,684.57 L1276.96,683.65 L1280.99,682.75 L1285.02,681.86 L1289.05,680.99 L1293.08,680.13 L1297.11,679.28 L1301.14,678.44 L1305.17,677.62 L1309.20,676.81 L1313.23,676.02 L1317.26,675.23 L1321.29,674.46 L1325.32,673.71 L1329.35,672.96 L1333.38,672.23 L1337.41,671.51 L1341.44,670.80 L1345.47,670.10 L1349.50,669.42 L1353.53,668.74 L1357.56,668.08 L1361.59,667.43 L1365.62,666.79 L1369.65,666.17 L1373.69,665.55 L1377.72,664.95 L1381.75,664.36 L1385.78,663.78 L1389.81,663.21 L1393.84,662.65 L1397.87,662.10 L1401.90,661.57 L1405.93,661.04 L1409.96,660.52 L1413.99,660.02 L1418.02,659.52 L1422.05,659.04 L1426.08,658.57 L1430.11,658.10 L1434.14,657.65 L1438.17,657.20 L1442.20,656.77 L1446.23,656.35 L1450.26,655.93 L1454.29,655.53 L1458.32,655.13 L1462.35,654.75 L1466.38,654.37 L1470.41,654.00 L1474.44,653.65 L1478.48,653.30 L1482.51,652.96 L1486.54,652.63 L1490.57,652.30 L1494.60,651.99 L1498.63,651.69 L1502.66,651.39 L1506.69,651.10 L1510.72,650.82 L1514.75,650.55 L1518.78,650.29 L1522.81,650.03 L1526.84,649.79 L1530.87,649.55 L1534.90,649.32 L1538.93,649.09 L1542.96,648.88 L1546.99,648.67 L1551.02,648.47 L1555.05,648.27 L1559.08,648.09 L1563.11,647.91 L1567.14,647.73 L1571.17,647.57 L1575.20,647.41 L1579.23,647.26 L1583.27,647.11 L1587.30,646.98 L1591.33,646.84 L1595.36,646.72 L1599.39,646.60 L1603.42,646.49 L1607.45,646.38 L1611.48,646.28 L1615.51,646.18 L1619.54,646.09 L1623.57,646.01 L1627.60,645.93 L1631.63,645.86 L1635.66,645.79 L1639.69,645.73 L1643.72,645.67 L1647.75,645.62 L1651.78,645.57 L1655.81,645.53 L1659.84,645.49 L1663.87,645.46 L1667.90,645.43 L1671.93,645.40 L1675.96,645.38 L1679.99,645.37 L1684.02,645.35 L1688.06,645.34 L1692.09,645.34 L1696.12,645.33 L1700.15,645.33 L1704.18,645.34 L1708.21,645.35 L1712.24,645.36 L1716.27,645.37 L1720.30,645.39 L1724.33,645.40 L1728.36,645.43 L1732.39,645.45 L1736.42,645.47 L1740.45,645.50 L1744.48,645.53 L1748.51,645.56 L1752.54,645.60 L1756.57,645.63 L1760.60,645.67 L1764.63,645.71 L1768.66,645.75 L1772.69,645.79 L1776.72,645.83 L1780.75,645.88 L1784.78,645.92 L1788.81,645.97 L1792.85,646.01 L1796.88,646.06 L1800.91,646.11 L1804.94,646.15 L1808.97,646.20 L1813.00,646.25 L1817.03,646.29 L1821.06,646.34 L1825.09,646.39 L1829.12,646.43 L1833.15,646.48 L1837.18,646.52 L1841.21,646.57 L1845.24,646.61 L1849.27,646.66 L1853.30,646.70 L1857.33,646.74 L1861.36,646.78 L1865.39,646.81 L1869.42,646.85 L1873.45,646.88 L1877.48,646.91 L1881.51,646.94 L1885.54,646.97 L1889.57,647.00 L1893.60,647.02 L1897.64,647.04 L1901.67,647.06 L1905.70,647.08 L1909.73,647.09 L1913.76,647.10 L1917.79,647.11 L1921.82,647.11 L1925.85,647.11 L1929.88,647.11 L1933.91,647.10 L1937.94,647.09 L1941.97,647.08 L1946.00,647.06" fill="none" stroke="#2e2e2e" stroke-width="3.8" stroke-dasharray="4 4"/>
<path d="M1216.50,809.04 L1220.53,807.54 L1224.56,806.05 L1228.59,804.58 L1232.62,803.12 L1236.65,801.67 L1240.68,800.23 L1244.71,798.81 L1248.74,797.39 L1252.77,795.99 L1256.80,794.60 L1260.83,793.23 L1264.86,791.86 L1268.90,790.51 L1272.93,789.17 L1276.96,787.84 L1280.99,786.52 L1285.02,785.22 L1289.05,783.92 L1293.08,782.64 L1297.11,781.37 L1301.14,780.11 L1305.17,778.86 L1309.20,777.63 L1313.23,776.40 L1317.26,775.19 L1321.29,773.98 L1325.32,772.79 L1329.35,771.61 L1333.38,770.44 L1337.41,769.28 L1341.44,768.13 L1345.47,767.00 L1349.50,765.87 L1353.53,764.76 L1357.56,763.65 L1361.59,762.56 L1365.62,761.48 L1369.65,760.40 L1373.69,759.34 L1377.72,758.29 L1381.75,757.25 L1385.78,756.22 L1389.81,755.20 L1393.84,754.19 L1397.87,753.19 L1401.90,752.20 L1405.93,751.22 L1409.96,750.25 L1413.99,749.29 L1418.02,748.34 L1422.05,747.40 L1426.08,746.47 L1430.11,745.56 L1434.14,744.65 L1438.17,743.75 L1442.20,742.86 L1446.23,741.97 L1450.26,741.10 L1454.29,740.24 L1458.32,739.39 L1462.35,738.55 L1466.38,737.71 L1470.41,736.89 L1474.44,736.07 L1478.48,735.27 L1482.51,734.47 L1486.54,733.68 L1490.57,732.91 L1494.60,732.14 L1498.63,731.38 L1502.66,730.62 L1506.69,729.88 L1510.72,729.15 L1514.75,728.42 L1518.78,727.71 L1522.81,727.00 L1526.84,726.30 L1530.87,725.61 L1534.90,724.93 L1538.93,724.25 L1542.96,723.59 L1546.99,722.93 L1551.02,722.28 L1555.05,721.64 L1559.08,721.01 L1563.11,720.38 L1567.14,719.77 L1571.17,719.16 L1575.20,718.56 L1579.23,717.97 L1583.27,717.38 L1587.30,716.80 L1591.33,716.24 L1595.36,715.67 L1599.39,715.12 L1603.42,714.57 L1607.45,714.04 L1611.48,713.50 L1615.51,712.98 L1619.54,712.46 L1623.57,711.96 L1627.60,711.45 L1631.63,710.96 L1635.66,710.47 L1639.69,709.99 L1643.72,709.51 L1647.75,709.04 L1651.78,708.58 L1655.81,708.13 L1659.84,707.68 L1663.87,707.23 L1667.90,706.80 L1671.93,706.36 L1675.96,705.94 L1679.99,705.52 L1684.02,705.11 L1688.06,704.70 L1692.09,704.30 L1696.12,703.90 L1700.15,703.51 L1704.18,703.12 L1708.21,702.74 L1712.24,702.36 L1716.27,701.99 L1720.30,701.63 L1724.33,701.27 L1728.36,700.91 L1732.39,700.56 L1736.42,700.21 L1740.45,699.87 L1744.48,699.53 L1748.51,699.19 L1752.54,698.86 L1756.57,698.54 L1760.60,698.21 L1764.63,697.90 L1768.66,697.58 L1772.69,697.27 L1776.72,696.96 L1780.75,696.66 L1784.78,696.36 L1788.81,696.06 L1792.85,695.77 L1796.88,695.48 L1800.91,695.19 L1804.94,694.91 L1808.97,694.63 L1813.00,694.35 L1817.03,694.07 L1821.06,693.80 L1825.09,693.53 L1829.12,693.26 L1833.15,692.99 L1837.18,692.73 L1841.21,692.47 L1845.24,692.21 L1849.27,691.95 L1853.30,691.69 L1857.33,691.44 L1861.36,691.18 L1865.39,690.93 L1869.42,690.68 L1873.45,690.43 L1877.48,690.19 L1881.51,689.94 L1885.54,689.70 L1889.57,689.45 L1893.60,689.21 L1897.64,688.97 L1901.67,688.73 L1905.70,688.49 L1909.73,688.25 L1913.76,688.01 L1917.79,687.77 L1921.82,687.53 L1925.85,687.29 L1929.88,687.05 L1933.91,686.81 L1937.94,686.58 L1941.97,686.34 L1946.00,686.10" fill="none" stroke="#e8283c" stroke-width="3.8" stroke-dasharray="4 4"/>
<path d="M1216.50,904.19 L1220.53,901.27 L1224.56,898.38 L1228.59,895.51 L1232.62,892.67 L1236.65,889.86 L1240.68,887.08 L1244.71,884.33 L1248.74,881.60 L1252.77,878.90 L1256.80,876.22 L1260.83,873.57 L1264.86,870.96 L1268.90,868.36 L1272.93,865.80 L1276.96,863.27 L1280.99,860.76 L1285.02,858.28 L1289.05,855.83 L1293.08,853.40 L1297.11,851.01 L1301.14,848.64 L1305.17,846.30 L1309.20,843.99 L1313.23,841.70 L1317.26,839.45 L1321.29,837.22 L1325.32,835.03 L1329.35,832.86 L1333.38,830.72 L1337.41,828.61 L1341.44,826.53 L1345.47,824.47 L1349.50,822.45 L1353.53,820.45 L1357.56,818.49 L1361.59,816.55 L1365.62,814.64 L1369.65,812.76 L1373.69,810.91 L1377.72,809.09 L1381.75,807.30 L1385.78,805.54 L1389.81,803.81 L1393.84,802.11 L1397.87,800.44 L1401.90,798.80 L1405.93,797.19 L1409.96,795.61 L1413.99,794.05 L1418.02,792.53 L1422.05,791.04 L1426.08,789.58 L1430.11,788.14 L1434.14,786.74 L1438.17,785.36 L1442.20,784.01 L1446.23,782.69 L1450.26,781.39 L1454.29,780.12 L1458.32,778.88 L1462.35,777.67 L1466.38,776.48 L1470.41,775.32 L1474.44,774.18 L1478.48,773.07 L1482.51,771.98 L1486.54,770.92 L1490.57,769.88 L1494.60,768.87 L1498.63,767.88 L1502.66,766.91 L1506.69,765.97 L1510.72,765.05 L1514.75,764.15 L1518.78,763.28 L1522.81,762.43 L1526.84,761.60 L1530.87,760.79 L1534.90,760.00 L1538.93,759.23 L1542.96,758.48 L1546.99,757.76 L1551.02,757.05 L1555.05,756.36 L1559.08,755.70 L1563.11,755.05 L1567.14,754.42 L1571.17,753.81 L1575.20,753.22 L1579.23,752.64 L1583.27,752.09 L1587.30,751.55 L1591.33,751.03 L1595.36,750.52 L1599.39,750.03 L1603.42,749.56 L1607.45,749.10 L1611.48,748.66 L1615.51,748.24 L1619.54,747.83 L1623.57,747.43 L1627.60,747.05 L1631.63,746.68 L1635.66,746.33 L1639.69,745.99 L1643.72,745.66 L1647.75,745.35 L1651.78,745.05 L1655.81,744.76 L1659.84,744.49 L1663.87,744.22 L1667.90,743.97 L1671.93,743.73 L1675.96,743.50 L1679.99,743.28 L1684.02,743.07 L1688.06,742.87 L1692.09,742.68 L1696.12,742.50 L1700.15,742.33 L1704.18,742.17 L1708.21,742.01 L1712.24,741.87 L1716.27,741.73 L1720.30,741.60 L1724.33,741.48 L1728.36,741.37 L1732.39,741.26 L1736.42,741.16 L1740.45,741.06 L1744.48,740.98 L1748.51,740.89 L1752.54,740.81 L1756.57,740.74 L1760.60,740.67 L1764.63,740.61 L1768.66,740.55 L1772.69,740.50 L1776.72,740.45 L1780.75,740.40 L1784.78,740.35 L1788.81,740.31 L1792.85,740.27 L1796.88,740.23 L1800.91,740.20 L1804.94,740.16 L1808.97,740.13 L1813.00,740.10 L1817.03,740.07 L1821.06,740.04 L1825.09,740.01 L1829.12,739.98 L1833.15,739.95 L1837.18,739.91 L1841.21,739.88 L1845.24,739.85 L1849.27,739.81 L1853.30,739.77 L1857.33,739.73 L1861.36,739.69 L1865.39,739.65 L1869.42,739.60 L1873.45,739.55 L1877.48,739.49 L1881.51,739.43 L1885.54,739.37 L1889.57,739.30 L1893.60,739.23 L1897.64,739.15 L1901.67,739.07 L1905.70,738.98 L1909.73,738.88 L1913.76,738.78 L1917.79,738.67 L1921.82,738.56 L1925.85,738.44 L1929.88,738.31 L1933.91,738.17 L1937.94,738.02 L1941.97,737.87 L1946.00,737.71" fill="none" stroke="#f4883a" stroke-width="3.8" stroke-dasharray="4 4"/>
<path d="M1216.50,1078.90 L1220.53,1074.65 L1224.56,1070.44 L1228.59,1066.28 L1232.62,1062.15 L1236.65,1058.07 L1240.68,1054.03 L1244.71,1050.03 L1248.74,1046.07 L1252.77,1042.16 L1256.80,1038.28 L1260.83,1034.45 L1264.86,1030.66 L1268.90,1026.91 L1272.93,1023.20 L1276.96,1019.54 L1280.99,1015.91 L1285.02,1012.33 L1289.05,1008.79 L1293.08,1005.29 L1297.11,1001.83 L1301.14,998.42 L1305.17,995.04 L1309.20,991.71 L1313.23,988.42 L1317.26,985.17 L1321.29,981.96 L1325.32,978.80 L1329.35,975.67 L1333.38,972.59 L1337.41,969.55 L1341.44,966.55 L1345.47,963.59 L1349.50,960.67 L1353.53,957.80 L1357.56,954.97 L1361.59,952.18 L1365.62,949.43 L1369.65,946.71 L1373.69,944.04 L1377.72,941.41 L1381.75,938.82 L1385.78,936.27 L1389.81,933.76 L1393.84,931.28 L1397.87,928.85 L1401.90,926.45 L1405.93,924.09 L1409.96,921.77 L1413.99,919.48 L1418.02,917.23 L1422.05,915.02 L1426.08,912.84 L1430.11,910.70 L1434.14,908.59 L1438.17,906.52 L1442.20,904.48 L1446.23,902.48 L1450.26,900.51 L1454.29,898.57 L1458.32,896.67 L1462.35,894.80 L1466.38,892.97 L1470.41,891.16 L1474.44,889.39 L1478.48,887.65 L1482.51,885.94 L1486.54,884.26 L1490.57,882.61 L1494.60,881.00 L1498.63,879.41 L1502.66,877.85 L1506.69,876.32 L1510.72,874.82 L1514.75,873.35 L1518.78,871.91 L1522.81,870.50 L1526.84,869.11 L1530.87,867.75 L1534.90,866.42 L1538.93,865.11 L1542.96,863.84 L1546.99,862.58 L1551.02,861.36 L1555.05,860.16 L1559.08,858.98 L1563.11,857.83 L1567.14,856.70 L1571.17,855.60 L1575.20,854.52 L1579.23,853.46 L1583.27,852.43 L1587.30,851.42 L1591.33,850.43 L1595.36,849.47 L1599.39,848.52 L1603.42,847.60 L1607.45,846.70 L1611.48,845.82 L1615.51,844.96 L1619.54,844.12 L1623.57,843.30 L1627.60,842.50 L1631.63,841.72 L1635.66,840.96 L1639.69,840.22 L1643.72,839.49 L1647.75,838.79 L1651.78,838.10 L1655.81,837.42 L1659.84,836.77 L1663.87,836.13 L1667.90,835.51 L1671.93,834.90 L1675.96,834.31 L1679.99,833.73 L1684.02,833.17 L1688.06,832.63 L1692.09,832.10 L1696.12,831.58 L1700.15,831.07 L1704.18,830.58 L1708.21,830.10 L1712.24,829.64 L1716.27,829.19 L1720.30,828.75 L1724.33,828.32 L1728.36,827.90 L1732.39,827.49 L1736.42,827.09 L1740.45,826.71 L1744.48,826.33 L1748.51,825.97 L1752.54,825.61 L1756.57,825.26 L1760.60,824.92 L1764.63,824.59 L1768.66,824.27 L1772.69,823.95 L1776.72,823.65 L1780.75,823.35 L1784.78,823.05 L1788.81,822.76 L1792.85,822.48 L1796.88,822.21 L1800.91,821.94 L1804.94,821.67 L1808.97,821.41 L1813.00,821.16 L1817.03,820.91 L1821.06,820.66 L1825.09,820.41 L1829.12,820.17 L1833.15,819.93 L1837.18,819.70 L1841.21,819.46 L1845.24,819.23 L1849.27,819.00 L1853.30,818.77 L1857.33,818.54 L1861.36,818.32 L1865.39,818.09 L1869.42,817.86 L1873.45,817.63 L1877.48,817.40 L1881.51,817.17 L1885.54,816.94 L1889.57,816.71 L1893.60,816.47 L1897.64,816.24 L1901.67,816.00 L1905.70,815.75 L1909.73,815.51 L1913.76,815.25 L1917.79,815.00 L1921.82,814.74 L1925.85,814.48 L1929.88,814.21 L1933.91,813.93 L1937.94,813.65 L1941.97,813.37 L1946.00,813.07" fill="none" stroke="#00a860" stroke-width="3.8" stroke-dasharray="4 4"/>
<path d="M1216.50,1175.96 L1220.53,1172.39 L1224.56,1168.80 L1228.59,1165.19 L1232.62,1161.56 L1236.65,1157.92 L1240.68,1154.26 L1244.71,1150.59 L1248.74,1146.92 L1252.77,1143.23 L1256.80,1139.54 L1260.83,1135.84 L1264.86,1132.14 L1268.90,1128.43 L1272.93,1124.73 L1276.96,1121.03 L1280.99,1117.33 L1285.02,1113.63 L1289.05,1109.95 L1293.08,1106.26 L1297.11,1102.59 L1301.14,1098.93 L1305.17,1095.28 L1309.20,1091.65 L1313.23,1088.03 L1317.26,1084.43 L1321.29,1080.85 L1325.32,1077.29 L1329.35,1073.75 L1333.38,1070.23 L1337.41,1066.75 L1341.44,1063.28 L1345.47,1059.85 L1349.50,1056.45 L1353.53,1053.07 L1357.56,1049.73 L1361.59,1046.42 L1365.62,1043.13 L1369.65,1039.88 L1373.69,1036.66 L1377.72,1033.47 L1381.75,1030.30 L1385.78,1027.17 L1389.81,1024.07 L1393.84,1021.00 L1397.87,1017.96 L1401.90,1014.94 L1405.93,1011.96 L1409.96,1009.01 L1413.99,1006.09 L1418.02,1003.21 L1422.05,1000.35 L1426.08,997.52 L1430.11,994.72 L1434.14,991.96 L1438.17,989.22 L1442.20,986.51 L1446.23,983.84 L1450.26,981.20 L1454.29,978.58 L1458.32,976.00 L1462.35,973.45 L1466.38,970.93 L1470.41,968.44 L1474.44,965.99 L1478.48,963.56 L1482.51,961.16 L1486.54,958.80 L1490.57,956.46 L1494.60,954.16 L1498.63,951.89 L1502.66,949.65 L1506.69,947.44 L1510.72,945.27 L1514.75,943.12 L1518.78,941.01 L1522.81,938.92 L1526.84,936.87 L1530.87,934.85 L1534.90,932.86 L1538.93,930.91 L1542.96,928.98 L1546.99,927.09 L1551.02,925.23 L1555.05,923.40 L1559.08,921.60 L1563.11,919.83 L1567.14,918.10 L1571.17,916.39 L1575.20,914.72 L1579.23,913.08 L1583.27,911.47 L1587.30,909.90 L1591.33,908.36 L1595.36,906.84 L1599.39,905.36 L1603.42,903.92 L1607.45,902.50 L1611.48,901.11 L1615.51,899.74 L1619.54,898.41 L1623.57,897.10 L1627.60,895.81 L1631.63,894.55 L1635.66,893.31 L1639.69,892.09 L1643.72,890.90 L1647.75,889.72 L1651.78,888.57 L1655.81,887.43 L1659.84,886.31 L1663.87,885.20 L1667.90,884.11 L1671.93,883.04 L1675.96,881.99 L1679.99,880.95 L1684.02,879.93 L1688.06,878.92 L1692.09,877.93 L1696.12,876.96 L1700.15,876.00 L1704.18,875.05 L1708.21,874.12 L1712.24,873.21 L1716.27,872.31 L1720.30,871.42 L1724.33,870.55 L1728.36,869.70 L1732.39,868.85 L1736.42,868.02 L1740.45,867.21 L1744.48,866.41 L1748.51,865.62 L1752.54,864.84 L1756.57,864.08 L1760.60,863.33 L1764.63,862.59 L1768.66,861.86 L1772.69,861.15 L1776.72,860.45 L1780.75,859.76 L1784.78,859.08 L1788.81,858.41 L1792.85,857.75 L1796.88,857.11 L1800.91,856.48 L1804.94,855.85 L1808.97,855.24 L1813.00,854.64 L1817.03,854.04 L1821.06,853.46 L1825.09,852.89 L1829.12,852.32 L1833.15,851.77 L1837.18,851.22 L1841.21,850.69 L1845.24,850.16 L1849.27,849.64 L1853.30,849.13 L1857.33,848.63 L1861.36,848.13 L1865.39,847.65 L1869.42,847.17 L1873.45,846.70 L1877.48,846.23 L1881.51,845.78 L1885.54,845.33 L1889.57,844.88 L1893.60,844.45 L1897.64,844.02 L1901.67,843.59 L1905.70,843.18 L1909.73,842.76 L1913.76,842.36 L1917.79,841.96 L1921.82,841.56 L1925.85,841.17 L1929.88,840.79 L1933.91,840.41 L1937.94,840.03 L1941.97,839.66 L1946.00,839.29" fill="none" stroke="#383894" stroke-width="3.8" stroke-dasharray="4 4"/>
<circle cx="1215.80" cy="148.60" r="12.3" fill="#0000a0"/>
<circle cx="1215.80" cy="139.50" r="12.3" fill="#008000"/>
<circle cx="1343.50" cy="85.90" r="12.3" fill="#0000a0"/>
<circle cx="1343.60" cy="189.00" r="12.3" fill="#008000"/>
<circle cx="1215.80" cy="246.60" r="12.3" fill="#ff8000"/>
<circle cx="1343.50" cy="257.80" r="12.3" fill="#ff8000"/>
<circle cx="1215.80" cy="347.90" r="12.3" fill="#ff0000"/>
<circle cx="1215.90" cy="416.60" r="12.3" fill="#000000"/>
<circle cx="1671.30" cy="354.20" r="12.3" fill="#0000a0"/>
<circle cx="1671.50" cy="423.00" r="12.3" fill="#008000"/>
<circle cx="1671.50" cy="425.60" r="12.3" fill="#ff8000"/>
<circle cx="1671.40" cy="460.00" r="12.3" fill="#ff0000"/>
<circle cx="1671.40" cy="479.10" r="12.3" fill="#000000"/>
<circle cx="1944.60" cy="467.20" r="12.3" fill="#0000a0"/>
<circle cx="1944.60" cy="524.80" r="12.3" fill="#008000"/>
<circle cx="1944.60" cy="521.40" r="12.3" fill="#ff8000"/>
<circle cx="1944.60" cy="539.50" r="12.3" fill="#ff0000"/>
<circle cx="1944.60" cy="564.30" r="12.3" fill="#000000"/>
<circle cx="1216.50" cy="696.00" r="12.3" fill="#000000"/>
<circle cx="1216.50" cy="805.70" r="12.3" fill="#ff0000"/>
<circle cx="1216.50" cy="910.30" r="12.3" fill="#ff8000"/>
<circle cx="1216.60" cy="1067.20" r="12.3" fill="#008000"/>
<circle cx="1216.50" cy="1165.60" r="12.3" fill="#0000a0"/>
<circle cx="1344.00" cy="823.00" r="12.3" fill="#ff8000"/>
<circle cx="1344.30" cy="938.00" r="12.3" fill="#008000"/>
<circle cx="1344.30" cy="1048.10" r="12.3" fill="#0000a0"/>
<circle cx="1672.20" cy="651.80" r="12.3" fill="#000000"/>
<circle cx="1672.20" cy="701.70" r="12.3" fill="#ff0000"/>
<circle cx="1672.20" cy="758.60" r="12.3" fill="#ff8000"/>
<circle cx="1672.20" cy="850.00" r="12.3" fill="#008000"/>
<circle cx="1672.20" cy="882.60" r="12.3" fill="#0000a0"/>
<circle cx="1945.90" cy="647.60" r="12.3" fill="#000000"/>
<circle cx="1945.90" cy="692.70" r="12.3" fill="#ff0000"/>
<circle cx="1945.90" cy="738.40" r="12.3" fill="#ff8000"/>
<circle cx="1945.90" cy="811.40" r="12.3" fill="#008000"/>
<circle cx="1945.90" cy="841.50" r="12.3" fill="#0000a0"/>
<text transform="translate(2089.00,58.00) scale(1.0,0.985)" font-size="47.3" text-anchor="start">theory:</text>
<circle cx="2141.20" cy="100.10" r="14.7" fill="#0000a0"/>
<text transform="translate(2207.40,117.10) scale(1.0,1.03)" font-size="48" text-anchor="start">1.7</text>
<text transform="translate(2287.46,117.10) scale(1.0,0.985)" font-size="48" text-anchor="start">nm</text>
<circle cx="2141.20" cy="159.10" r="14.7" fill="#008000"/>
<text transform="translate(2207.40,176.10) scale(1.0,1.03)" font-size="48" text-anchor="start">2.0</text>
<text transform="translate(2287.46,176.10) scale(1.0,0.985)" font-size="48" text-anchor="start">nm</text>
<circle cx="2141.20" cy="218.10" r="14.7" fill="#ff8000"/>
<text transform="translate(2207.40,235.10) scale(1.0,1.03)" font-size="48" text-anchor="start">2.5</text>
<text transform="translate(2287.46,235.10) scale(1.0,0.985)" font-size="48" text-anchor="start">nm</text>
<circle cx="2141.20" cy="277.20" r="14.7" fill="#ff0000"/>
<text transform="translate(2207.40,294.20) scale(1.0,1.03)" font-size="48" text-anchor="start">3.1</text>
<text transform="translate(2287.46,294.20) scale(1.0,0.985)" font-size="48" text-anchor="start">nm</text>
<circle cx="2141.20" cy="336.00" r="14.7" fill="#000000"/>
<text transform="translate(2207.40,353.00) scale(1.0,1.03)" font-size="48" text-anchor="start">3.9</text>
<text transform="translate(2287.46,353.00) scale(1.0,0.985)" font-size="48" text-anchor="start">nm</text>
<text transform="translate(2088.80,412.00) scale(1.0,0.985)" font-size="47.6" text-anchor="start">experiment:</text>
<circle cx="2141.20" cy="453.60" r="13.6" fill="none" stroke="#008000" stroke-width="2.0"/>
<text transform="translate(2207.40,470.60) scale(1.0,1.03)" font-size="48" text-anchor="start">1.9</text>
<text transform="translate(2287.46,470.60) scale(1.0,0.985)" font-size="48" text-anchor="start">nm</text>
<circle cx="2141.20" cy="512.60" r="13.6" fill="none" stroke="#ff8000" stroke-width="2.0"/>
<text transform="translate(2207.40,529.60) scale(1.0,1.03)" font-size="48" text-anchor="start">2.3</text>
<text transform="translate(2287.46,529.60) scale(1.0,0.985)" font-size="48" text-anchor="start">nm</text>
</svg>
</body></html>
